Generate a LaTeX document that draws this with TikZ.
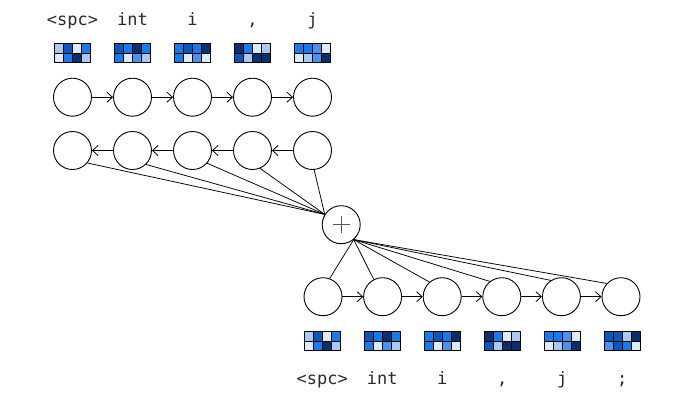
\documentclass[tikz,border=0pt]{standalone}
\usepackage{fontspec}
\setmonofont{DejaVu Sans Mono}
\usetikzlibrary{arrows.meta}
\definecolor{blA}{HTML}{DCEAFA}
\definecolor{blB}{HTML}{AAC8F2}
\definecolor{blC}{HTML}{4A92EE}
\definecolor{blD}{HTML}{1A7AE8}
\definecolor{blE}{HTML}{0C56B8}
\definecolor{blF}{HTML}{0A2F6E}
\definecolor{tokgray}{HTML}{2A2A2A}
\tikzset{
	hid/.style={circle, draw, line width=.9pt, minimum size=38pt, inner sep=0pt},
	tok/.style={font=\ttfamily\fontsize{17}{17}\selectfont, text=tokgray, anchor=base},
	link/.style={line width=.75pt},
	seq/.style={line width=.8pt, -{Straight Barb[length=5.5pt,width=10pt]}},
	cell/.style={draw=black, line width=.6pt},
}
% embedding grid: centre, top colours, bottom colours
\newcommand{\embgrid}[3]{%
	\begin{scope}[shift={#1}]
		\foreach \c [count=\k from 0] in {#2}
			\draw[cell, fill=\c] (-18.35+\k*9.175,-9.5) rectangle ++(9.175,9.5);
		\foreach \c [count=\k from 0] in {#3}
			\draw[cell, fill=\c] (-18.35+\k*9.175,0) rectangle ++(9.175,9.5);
		\draw[line width=.9pt] (-18.35,-9.5) rectangle (18.35,9.5);
	\end{scope}}

\begin{document}
\begin{tikzpicture}[x=1pt, y=-1pt]
	\useasboundingbox (0,0) rectangle (680,400);
	
	% encoder tokens
	\foreach \w [count=\i] in {{<spc>},int,i,{,},j}
		\node[tok] (w\i) at (12.5+60*\i,25) {\w};
	
	\embgrid{(72.3,52.8)}{blB,blE,blA,blD}{blA,blD,blF,blB}
	\embgrid{(132.3,52.8)}{blE,blD,blF,blD}{blD,blA,blC,blB}
	\embgrid{(192.3,52.8)}{blD,blE,blD,blF}{blD,blA,blC,blA}
	\embgrid{(252.3,52.8)}{blF,blD,blA,blB}{blE,blB,blF,blF}
	\embgrid{(312.3,52.8)}{blD,blD,blC,blA}{blA,blB,blC,blF}
	
	% forward and backward states
	\foreach \i in {1,...,5} {
		\node[hid] (f\i) at (12.5+60*\i,97.2) {};
		\node[hid] (r\i) at (12.5+60*\i,150.5) {};
	}
	\foreach \i/\j in {1/2,2/3,3/4,4/5} {
		\draw[seq] (f\i) -- (f\j);
		\draw[seq] (r\j) -- (r\i);
	}
	
	% sum
	\node[hid] (plus) at (341.2,224.7) {};
	\draw[black!65, line width=.7pt] ([xshift=-8.3pt]plus.center) -- ([xshift=8.3pt]plus.center);
	\draw[black!65, line width=.7pt] ([yshift=8.5pt]plus.center) -- ([yshift=-8.5pt]plus.center);
	\foreach \i/\a in {1/-40,2/-46,3/-41,4/-67,5/-85}
		\draw[link] (r\i.\a) -- (plus.148);
	
	% decoder states
	\foreach \i in {1,...,6}
		\node[hid] (d\i) at (263.4+59.6*\i,296.7) {};
	\foreach \i/\j in {1/2,2/3,3/4,4/5,5/6}
		\draw[seq] (d\i) -- (d\j);
	\foreach \i/\a in {1/70,2/117,3/131,4/128,5/123,6/137}
		\draw[link] (plus.-50) -- (d\i.\a);
	
	\embgrid{(322.3,341)}{blB,blE,blA,blD}{blA,blD,blF,blB}
	\embgrid{(382.3,341)}{blE,blD,blF,blD}{blD,blA,blC,blB}
	\embgrid{(442.3,341)}{blD,blE,blD,blF}{blD,blA,blC,blA}
	\embgrid{(502.3,341)}{blF,blD,blA,blB}{blE,blB,blF,blF}
	\embgrid{(562.3,341)}{blD,blD,blC,blA}{blA,blB,blC,blF}
	\embgrid{(622.3,341)}{blE,blE,blB,blF}{blC,blE,blD,blA}
	
	% decoder tokens
	\foreach \w [count=\i] in {{<spc>},int,i,{,},j,;}
		\node[tok] (v\i) at (262.3+60*\i,384.3) {\w};
	
\end{tikzpicture}
\end{document}
